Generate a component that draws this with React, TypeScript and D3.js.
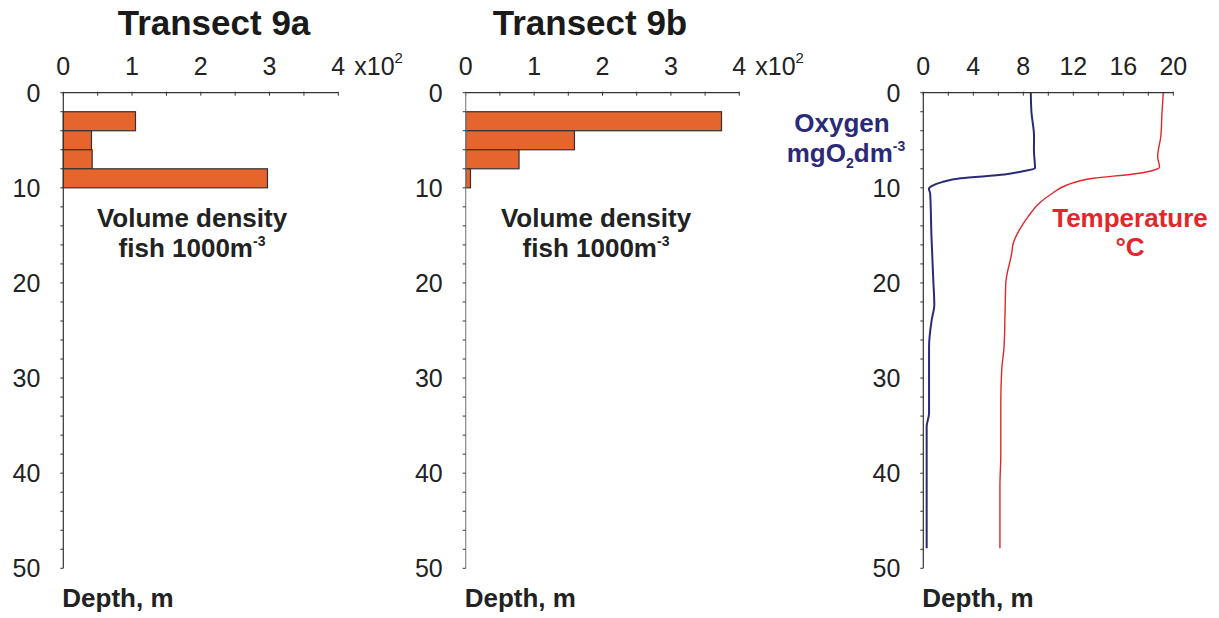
import React from "react";
import * as d3 from "d3";

// ---- data ----
const binTop = [2, 4, 6, 8];
const binBottom = [4, 6, 8, 10];
const density9a = [1.05, 0.41, 0.42, 2.97];
const density9b = [3.74, 1.59, 0.78, 0.07];

const densityTicks = [0, 1, 2, 3, 4];
const depthTicks = [0, 10, 20, 30, 40, 50];
const profileTicks = [0, 4, 8, 12, 16, 20];

const oxygenDepth = [0, 2, 4.6, 6, 7.95, 8.3, 8.6, 9.0, 9.4, 9.8, 10.1, 10.6, 15, 19.7, 22.3, 23.9, 26.7, 33.7, 35.1, 47.9];
const oxygenValue = [8.6, 8.65, 8.86, 8.85, 8.94, 7.8, 6.5, 3.0, 1.5, 0.7, 0.45, 0.55, 0.65, 0.8, 0.88, 0.67, 0.46, 0.46, 0.27, 0.27];

const tempDepth = [0, 2, 4.6, 6.7, 7.85, 8.2, 8.55, 9.0, 9.7, 10.6, 11.6, 13.0, 14.4, 15.8, 16.9, 20, 23.2, 26.7, 29.2, 32.7, 38, 41.4, 47.9];
const tempValue = [19.2, 19.1, 19.0, 18.75, 18.9, 18.3, 16.8, 13.6, 11.5, 10.3, 9.3, 8.4, 7.7, 7.2, 7.07, 6.6, 6.54, 6.46, 6.27, 6.2, 6.2, 6.13, 6.13];

const FONT = "'Liberation Sans', Arial, Helvetica, sans-serif";
const AXIS = "#333";
const BAR = "#e5652c";
const BLUE = "#2b2a78";
const RED = "#e3262b";
const LABEL = 26;
const TICK = 25;

const yTop = 92.7;
const yBot = 568.3;
const y = d3.scaleLinear().domain([0, 50]).range([yTop, yBot]);

function DepthAxis({ x0, color = AXIS }: { x0: number; color?: string }) {
  const minor = d3.range(0, 50.001, 2);
  return (
    <g>
      <line x1={x0} x2={x0} y1={yTop} y2={yBot} stroke={color} strokeWidth={1.2} />
      {minor.map((d) => (
        <line key={d} x1={x0 - 3} x2={x0} y1={y(d)} y2={y(d)} stroke={AXIS} strokeWidth={1} />
      ))}
      {depthTicks.map((d) => (
        <text key={d} x={x0 - 23} y={y(d)} dy="0.36em" textAnchor="end" fontSize={TICK} fill="#222" fontFamily={FONT}>
          {d}
        </text>
      ))}
      <text x={x0 - 1} y={607} fontSize={LABEL} fontWeight="bold" fill="#222" fontFamily={FONT}>
        Depth, m
      </text>
    </g>
  );
}

function TopAxis({ scale, ticks, minorStep }: { scale: d3.ScaleLinear<number, number>; ticks: number[]; minorStep: number }) {
  const [d0, d1] = scale.domain();
  const minor = d3.range(d0, d1 + 1e-6, minorStep);
  return (
    <g>
      <line x1={scale(d0)} x2={scale(d1)} y1={yTop} y2={yTop} stroke={AXIS} strokeWidth={1.2} />
      {minor.map((d) => (
        <line key={d} x1={scale(d)} x2={scale(d)} y1={yTop - 1} y2={yTop + 3} stroke={AXIS} strokeWidth={1} />
      ))}
      {ticks.map((d) => (
        <text key={d} x={scale(d)} y={75} textAnchor="middle" fontSize={TICK} fill="#222" fontFamily={FONT}>
          {d}
        </text>
      ))}
    </g>
  );
}

function DensityPanel({ x0, x4, values, title, titleX, labelX, yAxisColor }: any) {
  const x = d3.scaleLinear().domain([0, 4]).range([x0, x4]);
  return (
    <g>
      <text x={titleX} y={35} textAnchor="middle" fontSize={35} fontWeight="bold" fill="#1a1a1a" fontFamily={FONT}>
        {title}
      </text>
      {values.map((v: number, i: number) => (
        <rect
          key={i}
          x={x(0)}
          y={y(binTop[i])}
          width={x(v) - x(0)}
          height={y(binBottom[i]) - y(binTop[i])}
          fill={BAR}
          stroke="#333"
          strokeWidth={1.2}
        />
      ))}
      <TopAxis scale={x} ticks={densityTicks} minorStep={0.5} />
      <DepthAxis x0={x0} color={yAxisColor} />
      <text x={x4 + 16} y={75} fontSize={TICK} fill="#222" fontFamily={FONT}>
        x10
        <tspan dy={-12} fontSize={15}>2</tspan>
      </text>
      <text x={labelX} y={227} textAnchor="middle" fontSize={LABEL} fontWeight="bold" fill="#222" fontFamily={FONT}>
        Volume density
      </text>
      <text x={labelX} y={257} textAnchor="middle" fontSize={LABEL} fontWeight="bold" fill="#222" fontFamily={FONT}>
        fish 1000m<tspan dy={-11} fontSize={14}>-3</tspan>
      </text>
    </g>
  );
}

function ProfilePanel() {
  const x = d3.scaleLinear().domain([0, 20]).range([923.3, 1173.3]);
  const ox = oxygenDepth.map((d, i) => [oxygenValue[i], d] as [number, number]);
  const te = tempDepth.map((d, i) => [tempValue[i], d] as [number, number]);
  const line = d3
    .line<[number, number]>()
    .x((p) => x(p[0]))
    .y((p) => y(p[1]))
    .curve(d3.curveMonotoneY);
  return (
    <g>
      <path d={line(te) || ""} fill="none" stroke={RED} strokeWidth={1.4} />
      <path d={line(ox) || ""} fill="none" stroke={BLUE} strokeWidth={2} />
      <TopAxis scale={x} ticks={profileTicks} minorStep={2} />
      <DepthAxis x0={923.3} />
      <text x={842} y={132} textAnchor="middle" fontSize={LABEL} fontWeight="bold" fill={BLUE} fontFamily={FONT}>
        Oxygen
      </text>
      <text x={846} y={162} textAnchor="middle" fontSize={LABEL} fontWeight="bold" fill={BLUE} fontFamily={FONT}>
        mgO<tspan dy={6} fontSize={14}>2</tspan>
        <tspan dy={-6}>dm</tspan>
        <tspan dy={-11} fontSize={14}>-3</tspan>
      </text>
      <text x={1130} y={227} textAnchor="middle" fontSize={LABEL} fontWeight="bold" fill={RED} fontFamily={FONT}>
        Temperature
      </text>
      <text x={1130} y={256} textAnchor="middle" fontSize={LABEL} fontWeight="bold" fill={RED} fontFamily={FONT}>
        °C
      </text>
    </g>
  );
}

export default function App() {
  return (
    <svg width={1219} height={618} style={{ position: "absolute", left: 0, top: 0, background: "#fff" }}>
      <rect width={1219} height={618} fill="#fff" />
      <DensityPanel x0={63.3} x4={338.3} values={density9a} title="Transect 9a" titleX={214} labelX={192} yAxisColor={AXIS} />
      <DensityPanel x0={465.7} x4={739.3} values={density9b} title="Transect 9b" titleX={590} labelX={596} yAxisColor="#888" />
      <ProfilePanel />
    </svg>
  );
}
